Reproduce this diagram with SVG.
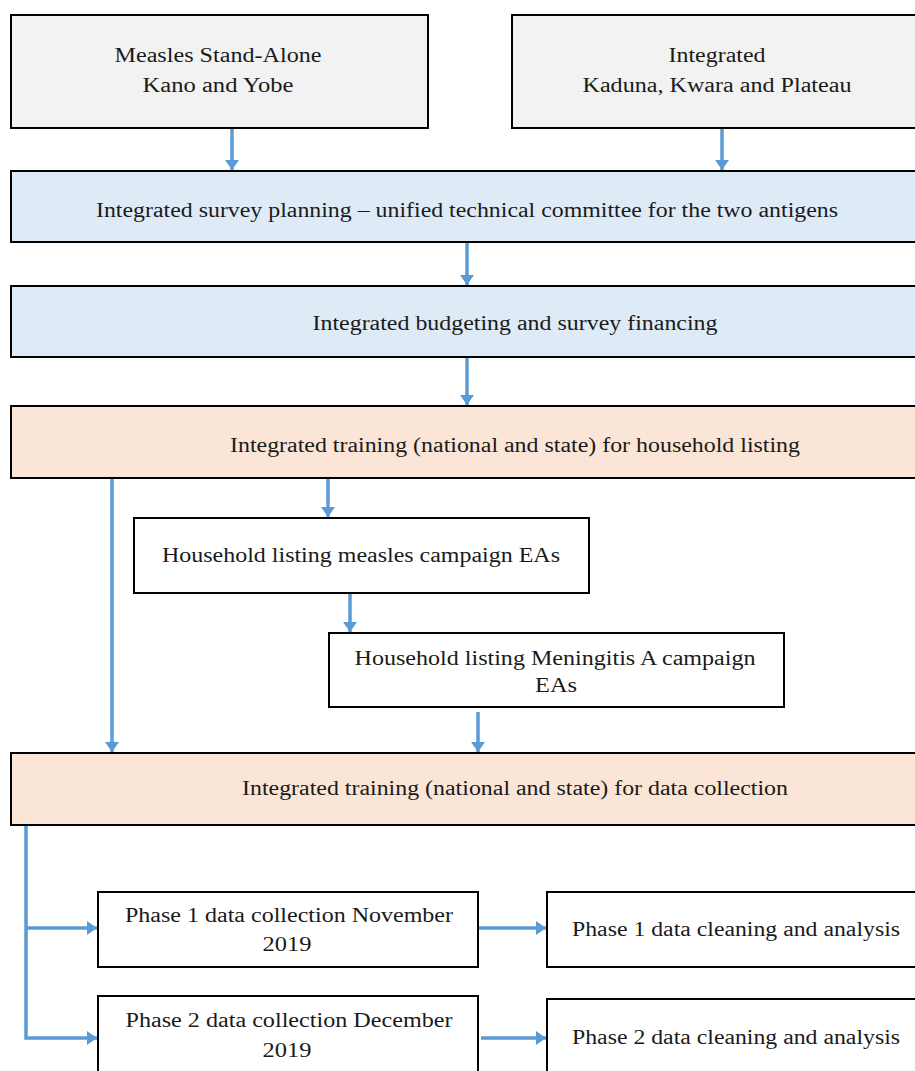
<svg xmlns="http://www.w3.org/2000/svg" width="915" height="1071" viewBox="0 0 915 1071">
<style>
.box{stroke:#000;stroke-width:2}
.grey{fill:#f2f2f2}
.blue{fill:#deebf7}
.peach{fill:#fbe5d6}
.white{fill:#fff}
text{font-family:"Liberation Serif","Times New Roman",serif;font-size:20px;fill:#1a1a1a;text-anchor:middle}
.c{stroke:#5b9bd5;stroke-width:3.5;fill:none}
</style>
<defs>
<marker id="ah" markerUnits="userSpaceOnUse" markerWidth="12" markerHeight="16" refX="10" refY="7" orient="auto">
<path d="M0,0 L10,7 L0,14 z" fill="#5b9bd5"/>
</marker>
</defs>
<rect x="0" y="0" width="915" height="1071" fill="#fff"/>
<g id="connectors">
<path class="c" d="M232,128 V170" marker-end="url(#ah)"/>
<path class="c" d="M722,128 V170" marker-end="url(#ah)"/>
<path class="c" d="M467,242 V285" marker-end="url(#ah)"/>
<path class="c" d="M467,357 V405" marker-end="url(#ah)"/>
<path class="c" d="M328,478 V517" marker-end="url(#ah)"/>
<path class="c" d="M112,478 V752" marker-end="url(#ah)"/>
<path class="c" d="M350,593 V632" marker-end="url(#ah)"/>
<path class="c" d="M478,712 V752" marker-end="url(#ah)"/>
<path class="c" d="M26,825 V1038 H97" marker-end="url(#ah)"/>
<path class="c" d="M26,928 H97" marker-end="url(#ah)"/>
<path class="c" d="M478,928 H546" marker-end="url(#ah)"/>
<path class="c" d="M481,1038 H546" marker-end="url(#ah)"/>
</g>
<g id="n1">
<rect class="box grey" x="11" y="15" width="417" height="113"/>
<text x="218" y="62" textLength="207" lengthAdjust="spacingAndGlyphs">Measles Stand-Alone</text>
<text x="218" y="92" textLength="151" lengthAdjust="spacingAndGlyphs">Kano and Yobe</text>
</g>
<g id="n2">
<rect class="box grey" x="512" y="15" width="410" height="113"/>
<text x="717" y="62" textLength="97" lengthAdjust="spacingAndGlyphs">Integrated</text>
<text x="717" y="92" textLength="269" lengthAdjust="spacingAndGlyphs">Kaduna, Kwara and Plateau</text>
</g>
<g id="n3">
<rect class="box blue" x="11" y="171" width="911" height="71"/>
<text x="467" y="217" textLength="742" lengthAdjust="spacingAndGlyphs">Integrated survey planning – unified technical committee for the two antigens</text>
</g>
<g id="n4">
<rect class="box blue" x="11" y="286" width="911" height="71"/>
<text x="515" y="330" textLength="405" lengthAdjust="spacingAndGlyphs">Integrated budgeting and survey financing</text>
</g>
<g id="n5">
<rect class="box peach" x="11" y="406" width="911" height="72"/>
<text x="515" y="452" textLength="570" lengthAdjust="spacingAndGlyphs">Integrated training (national and state) for household listing</text>
</g>
<g id="n6">
<rect class="box white" x="134" y="518" width="455" height="75"/>
<text x="361" y="562" textLength="398" lengthAdjust="spacingAndGlyphs">Household listing measles campaign EAs</text>
</g>
<g id="n7">
<rect class="box white" x="329" y="633" width="455" height="74"/>
<text x="555" y="665" textLength="401" lengthAdjust="spacingAndGlyphs">Household listing Meningitis A campaign</text>
<text x="556" y="692" textLength="42" lengthAdjust="spacingAndGlyphs">EAs</text>
</g>
<g id="n8">
<rect class="box peach" x="11" y="753" width="911" height="72"/>
<text x="515" y="795" textLength="546" lengthAdjust="spacingAndGlyphs">Integrated training (national and state) for data collection</text>
</g>
<g id="n9">
<rect class="box white" x="98" y="892" width="380" height="75"/>
<text x="289" y="922" textLength="328" lengthAdjust="spacingAndGlyphs">Phase 1 data collection November</text>
<text x="287" y="951" textLength="49" lengthAdjust="spacingAndGlyphs">2019</text>
</g>
<g id="n10">
<rect class="box white" x="98" y="996" width="380" height="90"/>
<text x="289" y="1027" textLength="327" lengthAdjust="spacingAndGlyphs">Phase 2 data collection December</text>
<text x="287" y="1057" textLength="49" lengthAdjust="spacingAndGlyphs">2019</text>
</g>
<g id="n11">
<rect class="box white" x="547" y="892" width="380" height="75"/>
<text x="736" y="936" textLength="328" lengthAdjust="spacingAndGlyphs">Phase 1 data cleaning and analysis</text>
</g>
<g id="n12">
<rect class="box white" x="547" y="999" width="380" height="90"/>
<text x="736" y="1044" textLength="328" lengthAdjust="spacingAndGlyphs">Phase 2 data cleaning and analysis</text>
</g>
</svg>
